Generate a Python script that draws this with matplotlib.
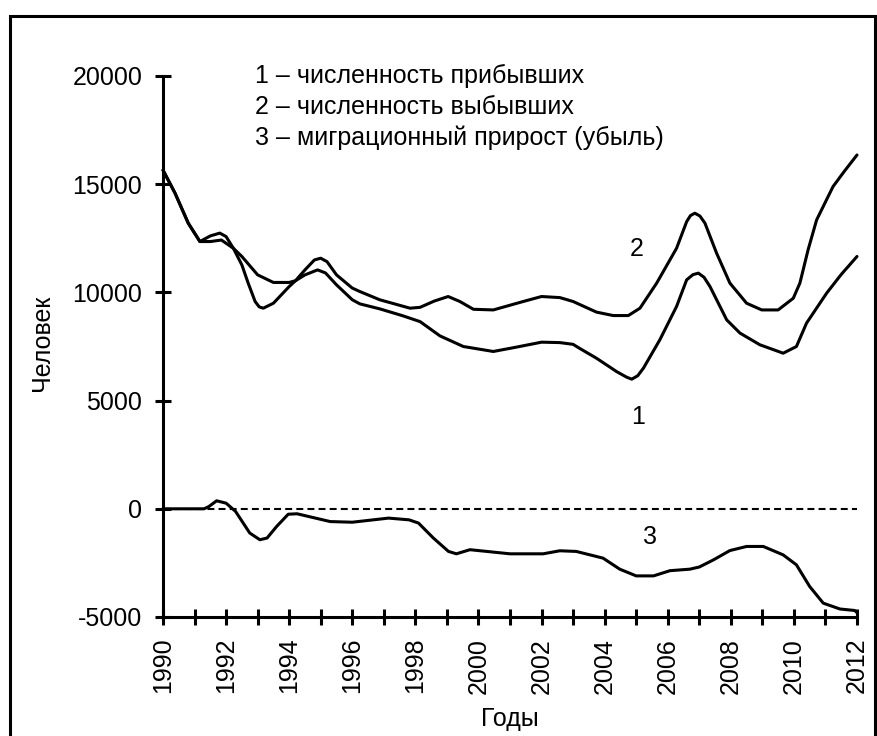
"""Migration chart: arrivals, departures and net migration, 1990-2012."""

import matplotlib

matplotlib.use("Agg")
import matplotlib.pyplot as plt
from matplotlib.patches import Rectangle

arrived_x = [1990.0, 1990.38, 1990.8, 1991.17, 1991.5, 1991.8, 1992.0, 1992.23,
             1992.5, 1992.7, 1992.92, 1993.05, 1993.18, 1993.5, 1994.0, 1994.2, 1994.5,
             1994.9, 1995.15, 1995.5, 1996.0, 1996.24, 1996.87, 1997.6, 1998.15,
             1998.78, 1999.52, 2000.47, 2001.2, 2002.0, 2002.58, 2003.0, 2003.2,
             2003.74, 2004.38, 2004.7, 2004.86, 2005.05, 2005.23, 2005.75,
             2006.28, 2006.6, 2006.8, 2006.97, 2007.15, 2007.34, 2007.87,
             2008.29, 2008.92, 2009.66, 2010.08, 2010.4, 2011.04, 2011.5, 2012.0]
arrived_y = [15650, 14590, 13200, 12350, 12610, 12740, 12580, 12040,
             11270, 10430, 9580, 9330, 9270, 9500, 10270, 10540, 10810,
             11040, 10900, 10350, 9660, 9470, 9240, 8920, 8650,
             7990, 7500, 7270, 7470, 7700, 7680, 7600, 7420,
             6960, 6340, 6080, 5990, 6150, 6500, 7810,
             9350, 10580, 10820, 10890, 10700, 10270, 8730,
             8120, 7580, 7190, 7500, 8580, 9970, 10830, 11660]

departed_x = [1990.0, 1990.38, 1990.8, 1991.17, 1991.5, 1991.85, 1992.23, 1992.5,
              1993.0, 1993.5, 1994.0, 1994.2, 1994.5, 1994.8, 1995.0, 1995.2,
              1995.5, 1996.0, 1996.24, 1996.87, 1997.83, 1998.15, 1998.6,
              1999.04, 1999.41, 1999.84, 2000.47, 2001.42, 2002.0, 2002.58,
              2003.0, 2003.74, 2004.27, 2004.75, 2005.12, 2005.65, 2006.28,
              2006.6, 2006.72, 2006.86, 2007.02, 2007.18, 2007.55, 2007.97,
              2008.5, 2008.98, 2009.5, 2009.98, 2010.19, 2010.45, 2010.72,
              2011.24, 2011.6, 2012.0]
departed_y = [15650, 14590, 13200, 12350, 12350, 12420, 12040, 11660,
              10810, 10460, 10460, 10540, 11040, 11500, 11580, 11420,
              10810, 10200, 10040, 9660, 9270, 9310, 9600,
              9810, 9580, 9220, 9190, 9580, 9810, 9760,
              9580, 9090, 8930, 8930, 9270, 10430, 12040,
              13270, 13550, 13660, 13530, 13200, 11810, 10430,
              9500, 9190, 9190, 9730, 10430, 11970, 13350,
              14890, 15600, 16350]

net_x = [1990.0, 1991.3, 1991.45, 1991.7, 1992.0, 1992.3, 1992.75, 1993.07,
         1993.3, 1993.6, 1993.97, 1994.25, 1995.3, 1996.0, 1997.15, 1997.8,
         1998.1, 1998.57, 1999.05, 1999.3, 1999.73, 2001.0, 2002.05, 2002.58,
         2003.1, 2003.95, 2004.48, 2005.0, 2005.55, 2006.07, 2006.7, 2007.0,
         2007.45, 2007.97, 2008.5, 2009.03, 2009.66, 2010.08, 2010.5, 2010.93,
         2011.46, 2011.93, 2012.0]
net_y = [0, 0, 100, 370, 260, -120, -1120, -1430,
         -1350, -820, -250, -230, -590, -620, -430, -510,
         -660, -1350, -1970, -2080, -1890, -2080, -2080, -1940,
         -1970, -2280, -2790, -3100, -3100, -2860, -2790, -2690,
         -2360, -1930, -1740, -1740, -2130, -2590, -3590, -4360,
         -4630, -4700, -4800]

year_ticks = list(range(1990, 2013))
year_labels = [str(y) if y % 2 == 0 else "" for y in year_ticks]
value_ticks = [-5000, 0, 5000, 10000, 15000, 20000]

legend_lines = [
    "1 – численность прибывших",
    "2 – численность выбывших",
    "3 – миграционный прирост (убыль)",
]

plt.rcParams["font.family"] = ["Liberation Sans", "DejaVu Sans"]
plt.rcParams["font.size"] = 18
plt.rcParams["lines.scale_dashes"] = False

W, H = 878, 736
fig = plt.figure(figsize=(W / 100, H / 100), dpi=100)
ax = fig.add_axes([163 / W, 1 - 617 / H, (857 - 163) / W, (617 - 76) / H])

lw = 2.2
ax.axhline(0, color="black", lw=1.5, dashes=(5, 3))
for xs, ys in ((arrived_x, arrived_y), (departed_x, departed_y), (net_x, net_y)):
    ax.plot(xs, ys, color="black", lw=lw, solid_joinstyle="round",
            solid_capstyle="round", clip_on=False)

ax.set_xlim(1990, 2012)
ax.set_ylim(-5000, 20000)
ax.set_xticks(year_ticks)
ax.set_xticklabels(year_labels, rotation=90)
ax.set_yticks(value_ticks)
ax.set_yticklabels([str(v) for v in value_ticks])
ax.tick_params(direction="inout", length=11, width=2.2, pad=9.5, colors="black")

for side in ("top", "right"):
    ax.spines[side].set_visible(False)
for side in ("left", "bottom"):
    ax.spines[side].set_linewidth(2.2)

# curve numbers
ax.text(2005.01, 11690, "2", ha="center", va="baseline")
ax.text(2005.06, 3930, "1", ha="center", va="baseline")
ax.text(2005.44, -1620, "3", ha="center", va="baseline")

# legend block
for i, line in enumerate(legend_lines):
    fig.text(255 / W, 1 - (83 + 31 * i) / H, line, ha="left", va="baseline")

fig.text(510 / W, 1 - 719 / H, "Годы", ha="center", va="center")
fig.text(42 / W, 1 - 343 / H, "Человек", ha="center", va="center", rotation=90)

# outer frame
fig.patches.append(Rectangle((10 / W, -0.05), (875 - 10) / W, 1 - 16 / H + 0.05,
                             transform=fig.transFigure, fill=False,
                             edgecolor="black", lw=2.2))

fig.savefig("out.png", dpi=100)
